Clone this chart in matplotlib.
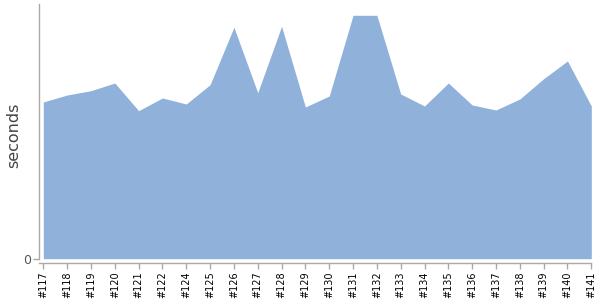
import matplotlib
matplotlib.use("Agg")
import matplotlib.pyplot as plt
import numpy as np

# build labels and measured durations (seconds)
builds = ["#117", "#118", "#119", "#120", "#121", "#122", "#124", "#125",
          "#126", "#127", "#128", "#129", "#130", "#131", "#132", "#133",
          "#134", "#135", "#136", "#137", "#138", "#139", "#140", "#141"]
durations = [156.7, 163.7, 168.0, 175.7, 148.0, 160.7, 154.7, 174.0,
             231.4, 166.0, 232.4, 151.7, 162.7, 243.4, 243.4, 164.7,
             152.7, 175.7, 153.7, 148.7, 159.7, 180.0, 197.7, 152.7]

fill_color = "#8FB1DA"
axis_color = "#AAAAAA"

fig = plt.figure(figsize=(6, 3), dpi=100)
ax = fig.add_axes([39.5 / 600, 1 - 262.7 / 300, (591.3 - 39.5) / 600, (262.7 - 4.3) / 300])

x = np.arange(len(builds))
ax.fill_between(x, 0, durations, color=fill_color, linewidth=0)

ax.set_xlim(-0.16, len(builds) - 1)
ax.set_ylim(-4, 254.4)

ax.set_xticks(x)
ax.set_xticklabels(builds, rotation=90, fontsize=7, color="black")
ax.set_yticks([0])
ax.set_yticklabels(["0"], fontsize=9, color="#555555")
ax.tick_params(axis="x", length=4, color=axis_color, width=1, pad=2)
ax.tick_params(axis="y", length=4, color=axis_color, width=1, pad=2)

for s in ["top", "right"]:
    ax.spines[s].set_visible(False)
for s in ["left", "bottom"]:
    ax.spines[s].set_color(axis_color)
    ax.spines[s].set_linewidth(1)
ax.spines["left"].set_bounds(0, 254.4)

ax.set_ylabel("seconds", fontsize=11.5, color="#444444")
ax.yaxis.set_label_coords(-18 / 551.8, 0.5 - 2 / 258.4)

fig.savefig("out.png", dpi=100)
